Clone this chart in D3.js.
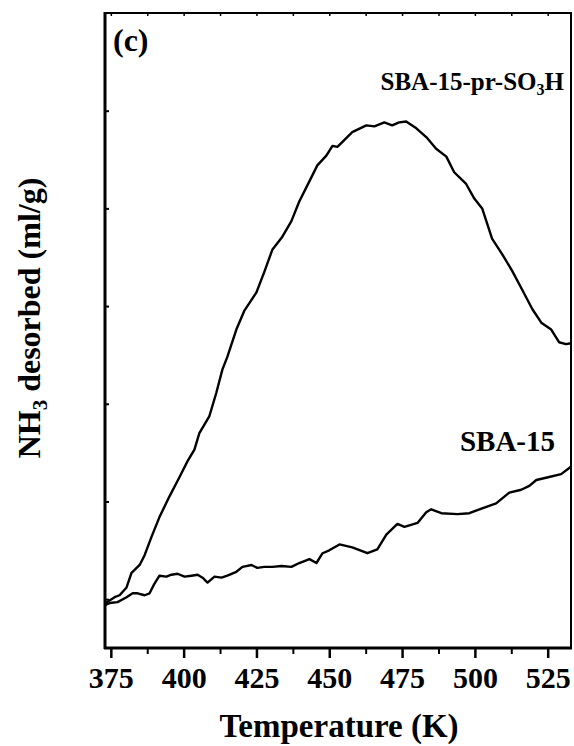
<!DOCTYPE html>
<html>
<head>
<meta charset="utf-8">
<script src="https://cdn.jsdelivr.net/npm/d3@7"></script>
<style>
  body { margin: 0; background: #fff; }
  text { font-family: "Liberation Serif", "Times New Roman", serif; font-weight: bold; fill: #000; }
</style>
</head>
<body>
<svg id="chart" width="574" height="746"></svg>
<script>
// NH3-TPD profiles: temperature (K) and desorbed NH3 (arbitrary units)
const tempSO3H = [373.2, 376.3, 378.0, 380.4, 382.1, 384.9, 386.6, 389.0, 391.7, 395.1,
  398.6, 401.3, 403.7, 405.4, 408.8, 411.2, 413.3, 415.0, 418.1, 420.8,
  425.0, 427.7, 430.5, 433.9, 437.0, 439.7, 443.9, 445.9, 449.0, 451.1,
  452.8, 457.9, 462.7, 465.5, 468.9, 471.6, 474.0, 476.4, 479.9, 483.3,
  486.7, 490.2, 492.9, 497.0, 499.8, 502.5, 505.9, 509.4, 512.8, 516.2,
  519.7, 522.8, 526.2, 528.9, 531.3, 533.0];
const nh3SO3H = [-0.04, 0.02, 0.04, 0.12, 0.27, 0.35, 0.45, 0.64, 0.84, 1.05,
  1.25, 1.41, 1.53, 1.70, 1.87, 2.11, 2.35, 2.48, 2.76, 2.95,
  3.14, 3.35, 3.58, 3.71, 3.87, 4.07, 4.32, 4.44, 4.54, 4.64,
  4.63, 4.78, 4.85, 4.84, 4.88, 4.85, 4.88, 4.89, 4.82, 4.73,
  4.61, 4.53, 4.37, 4.25, 4.10, 4.00, 3.69, 3.53, 3.36, 3.17,
  2.97, 2.83, 2.76, 2.63, 2.61, 2.62];

const tempSBA = [372.9, 374.6, 377.3, 380.4, 382.5, 384.2, 386.6, 388.3, 390.0, 391.7,
  394.1, 395.8, 397.9, 400.3, 402.7, 404.8, 406.5, 408.2, 410.6, 413.0,
  415.0, 418.1, 420.2, 423.3, 425.3, 427.7, 430.5, 433.6, 437.0, 439.7,
  443.2, 445.6, 447.7, 450.0, 453.5, 457.9, 463.1, 466.5, 469.6, 473.4,
  475.8, 480.3, 483.3, 485.0, 488.5, 494.0, 498.1, 502.5, 507.3, 511.8,
  515.9, 518.7, 521.1, 525.5, 529.6, 532.3, 533.0];
const nh3SBA = [-0.06, -0.04, -0.03, 0.02, 0.06, 0.06, 0.04, 0.06, 0.16, 0.24,
  0.23, 0.25, 0.26, 0.23, 0.24, 0.25, 0.22, 0.17, 0.23, 0.22,
  0.24, 0.28, 0.33, 0.35, 0.32, 0.33, 0.33, 0.34, 0.33, 0.37,
  0.41, 0.37, 0.47, 0.50, 0.56, 0.53, 0.47, 0.51, 0.66, 0.77,
  0.74, 0.78, 0.89, 0.92, 0.88, 0.87, 0.88, 0.93, 0.98, 1.09,
  1.12, 1.16, 1.22, 1.25, 1.28, 1.34, 1.36];

const xMajorTicks = [375, 400, 425, 450, 475, 500, 525];
const xMinorTicks = [387.5, 412.5, 437.5, 462.5, 487.5, 512.5];
const yTicks = [0, 1, 2, 3, 4, 5];

const svg = d3.select("#chart");
const plotLeft = 105, plotRight = 571, plotTop = 13, plotBottom = 648;

const x = d3.scaleLinear().domain([373, 533]).range([plotLeft, plotRight]);
const y = d3.scaleLinear().domain([-0.5, 6.0]).range([plotBottom, plotTop]);

// Frame
svg.append("rect")
  .attr("x", plotLeft).attr("y", plotTop)
  .attr("width", plotRight - plotLeft).attr("height", plotBottom - plotTop)
  .attr("fill", "none").attr("stroke", "#000").attr("stroke-width", 2);
svg.append("line")
  .attr("x1", plotLeft).attr("x2", plotLeft).attr("y1", plotTop - 1).attr("y2", plotBottom + 1)
  .attr("stroke", "#000").attr("stroke-width", 3);
svg.append("line")
  .attr("x1", plotLeft - 1).attr("x2", plotRight + 1).attr("y1", plotBottom).attr("y2", plotBottom)
  .attr("stroke", "#000").attr("stroke-width", 3);

// Bottom axis: major ticks with labels
const xAxis = svg.append("g")
  .attr("transform", `translate(0,${plotBottom})`)
  .call(d3.axisBottom(x).tickValues(xMajorTicks).tickSize(10).tickPadding(9).tickFormat(d3.format("d")));
xAxis.select(".domain").remove();
xAxis.selectAll(".tick line").attr("stroke-width", 2.5);
xAxis.selectAll(".tick text")
  .style("font-size", "30px")
  .style("font-family", "'Liberation Serif', 'Times New Roman', serif")
  .style("font-weight", "bold");

// Bottom axis: minor ticks
const xMinor = svg.append("g")
  .attr("transform", `translate(0,${plotBottom})`)
  .call(d3.axisBottom(x).tickValues(xMinorTicks).tickSize(6).tickFormat(""));
xMinor.select(".domain").remove();
xMinor.selectAll(".tick line").attr("stroke-width", 2);

// Top mirror ticks (inward)
const xTop = svg.append("g")
  .attr("transform", `translate(0,${plotTop})`)
  .call(d3.axisTop(x).tickValues(xMajorTicks.concat(xMinorTicks)).tickSize(-3).tickFormat(""));
xTop.select(".domain").remove();
xTop.selectAll(".tick line").attr("stroke-width", 1.5);

// Left axis: inward ticks, no labels
const yAxis = svg.append("g")
  .attr("transform", `translate(${plotLeft},0)`)
  .call(d3.axisLeft(y).tickValues(yTicks).tickSize(-4).tickFormat(""));
yAxis.select(".domain").remove();
yAxis.selectAll(".tick line").attr("stroke-width", 2);

// Curves
const line = d3.line().x(d => x(d[0])).y(d => y(d[1]));
const seriesSO3H = tempSO3H.map((t, i) => [t, nh3SO3H[i]]);
const seriesSBA = tempSBA.map((t, i) => [t, nh3SBA[i]]);

svg.append("clipPath").attr("id", "plotClip")
  .append("rect").attr("x", plotLeft).attr("y", plotTop)
  .attr("width", plotRight - plotLeft).attr("height", plotBottom - plotTop);

const curves = svg.append("g").attr("clip-path", "url(#plotClip)");
curves.append("path").datum(seriesSO3H)
  .attr("d", line).attr("fill", "none").attr("stroke", "#000")
  .attr("stroke-width", 2.4).attr("stroke-linejoin", "round");
curves.append("path").datum(seriesSBA)
  .attr("d", line).attr("fill", "none").attr("stroke", "#000")
  .attr("stroke-width", 2.4).attr("stroke-linejoin", "round");

// Panel label
svg.append("text").attr("x", 113).attr("y", 51)
  .style("font-size", "32px").text("(c)");

// Series labels
const lab1 = svg.append("text").attr("x", 564).attr("y", 90)
  .attr("text-anchor", "end").style("font-size", "25px");
lab1.append("tspan").text("SBA-15-pr-SO");
lab1.append("tspan").attr("dy", 5).style("font-size", "16px").text("3");
lab1.append("tspan").attr("dy", -5).text("H");

svg.append("text").attr("x", 555).attr("y", 451)
  .attr("text-anchor", "end").style("font-size", "29px").text("SBA-15");

// Axis titles
svg.append("text").attr("x", (plotLeft + plotRight) / 2 + 1).attr("y", 737)
  .attr("text-anchor", "middle").style("font-size", "33px").text("Temperature (K)");

const yTitle = svg.append("text")
  .attr("transform", "translate(40,318) rotate(-90)")
  .attr("text-anchor", "middle").style("font-size", "32px");
yTitle.append("tspan").text("NH");
yTitle.append("tspan").attr("dy", 7).style("font-size", "21px").text("3");
yTitle.append("tspan").attr("dy", -7).text(" desorbed (ml/g)");
</script>
</body>
</html>
